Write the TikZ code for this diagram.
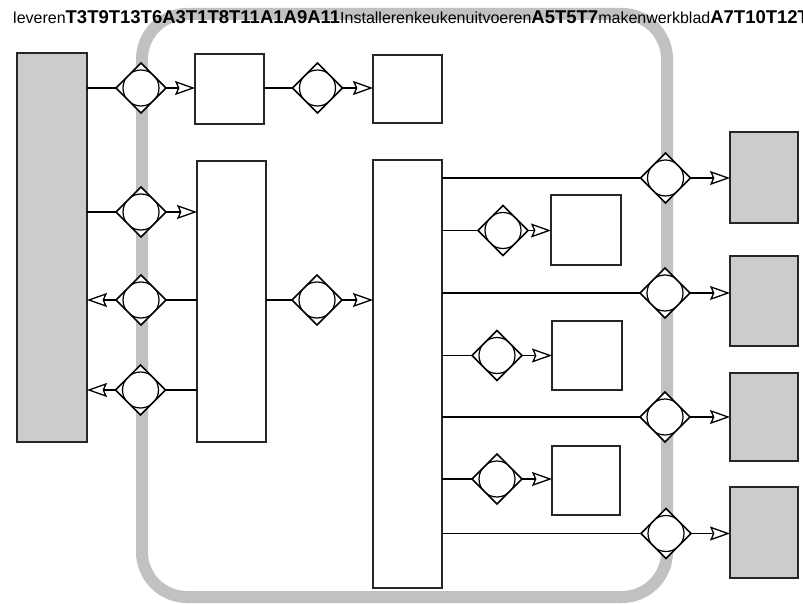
\documentclass[tikz,border=0pt]{standalone}
\usepackage{fontspec}
\setmainfont{Liberation Sans}
\usetikzlibrary{shapes.geometric,arrows.meta}
\definecolor{framegray}{HTML}{C0C1C0}
\definecolor{boxgray}{HTML}{CCCCCC}
\tikzset{
  wbox/.style={draw=black!85, line width=1.2pt, fill=white, inner sep=0pt, outer sep=0pt},
  gbox/.style={wbox, fill=boxgray},
  gate/.style={diamond, draw=black, line width=1.5pt, fill=white,
    minimum width=50pt, minimum height=50pt, inner sep=0pt, outer sep=0pt,
    path picture={\draw[line width=1.2pt] (path picture bounding box.center) circle (18pt);}},
  conn/.style={line width=1.3pt},
  flow/.style={conn, -{Stealth[open, length=20pt, width=14pt, inset=3pt]}},
  bigb/.style={font=\bfseries\fontsize{18.5}{20}\selectfont},
}
\newcommand{\bt}[1]{{\bfseries\fontsize{18.5}{20}\selectfont #1}}
\begin{document}
\begin{tikzpicture}[x=1pt,y=-1pt]
\useasboundingbox (0,0) rectangle (803,604);
% frame
\draw[framegray, line width=12pt, rounded corners=45pt] (142,14) rectangle (667,597);
% title text
\node[anchor=base west, inner sep=0pt] (title) at (13,24)
  {\fontsize{16}{19}\selectfont leveren\bt{T3T9T13T6A3T1T8T11A1A9A11}Installerenkeukenuitvoeren\bt{A5T5T7}makenwerkblad\bt{A7T10T12T}};
% boxes
\node[gbox, minimum width=70pt, minimum height=389pt] (b1) at (52,247.5) {};
\node[wbox, minimum width=69pt, minimum height=70pt] (b2) at (229.5,89) {};
\node[wbox, minimum width=69pt, minimum height=68pt] (b3) at (407.5,89) {};
\node[wbox, minimum width=69pt, minimum height=281pt] (b4) at (231.5,301.5) {};
\node[wbox, minimum width=69pt, minimum height=428pt] (b5) at (407.5,374) {};
\node[wbox, minimum width=70pt, minimum height=70pt] (s1) at (586,230) {};
\node[wbox, minimum width=70pt, minimum height=69pt] (s2) at (587,355.5) {};
\node[wbox, minimum width=68pt, minimum height=69pt] (s3) at (586,480.5) {};
\node[gbox, minimum width=68pt, minimum height=91pt] (r1) at (764,177.5) {};
\node[gbox, minimum width=68pt, minimum height=90pt] (r2) at (764,301) {};
\node[gbox, minimum width=68pt, minimum height=88pt] (r3) at (764,417) {};
\node[gbox, minimum width=68pt, minimum height=91pt] (r4) at (764,532.5) {};
% gates
\node[gate] (g1) at (141,88) {};
\node[gate] (g2) at (317.5,88) {};
\node[gate] (l2) at (141,212) {};
\node[gate] (l3) at (141,300) {};
\node[gate] (l4) at (140.5,390) {};
\node[gate] (m) at (317,300) {};
\node[gate] (sg1) at (503,230.5) {};
\node[gate] (sg2) at (497,355.5) {};
\node[gate] (sg3) at (497,479) {};
\node[gate] (rg1) at (665.5,178) {};
\node[gate] (rg2) at (665,293) {};
\node[gate] (rg3) at (665,417) {};
\node[gate] (rg4) at (666,533.5) {};
% connectors
\draw[conn] (g1.west -| b1.east) -- (g1.west);
\draw[flow] (g1.east) -- (g1.east -| b2.west);
\draw[conn] (g2.west -| b2.east) -- (g2.west);
\draw[flow] (g2.east) -- (g2.east -| b3.west);
\draw[conn] (l2.west -| b1.east) -- (l2.west);
\draw[flow] (l2.east) -- (l2.east -| b4.west);
\draw[conn] (l3.east -| b4.west) -- (l3.east);
\draw[flow] (l3.west) -- (l3.west -| b1.east);
\draw[conn] (l4.east -| b4.west) -- (l4.east);
\draw[flow] (l4.west) -- (l4.west -| b1.east);
\draw[conn] (m.west -| b4.east) -- (m.west);
\draw[flow] (m.east) -- (m.east -| b5.west);
\draw[conn] (sg1.west -| b5.east) -- (sg1.west);
\draw[flow] (sg1.east) -- (sg1.east -| s1.west);
\draw[conn] (sg2.west -| b5.east) -- (sg2.west);
\draw[flow] (sg2.east) -- (sg2.east -| s2.west);
\draw[conn] (sg3.west -| b5.east) -- (sg3.west);
\draw[flow] (sg3.east) -- (sg3.east -| s3.west);
\draw[conn] (rg1.west -| b5.east) -- (rg1.west);
\draw[flow] (rg1.east) -- (rg1.east -| r1.west);
\draw[conn] (rg2.west -| b5.east) -- (rg2.west);
\draw[flow] (rg2.east) -- (rg2.east -| r2.west);
\draw[conn] (rg3.west -| b5.east) -- (rg3.west);
\draw[flow] (rg3.east) -- (rg3.east -| r3.west);
\draw[conn] (rg4.west -| b5.east) -- (rg4.west);
\draw[flow] (rg4.east) -- (rg4.east -| r4.west);
\end{tikzpicture}
\end{document}
